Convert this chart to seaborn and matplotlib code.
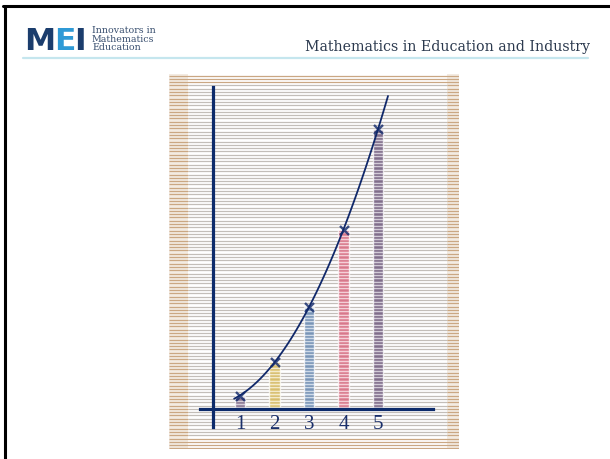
import numpy as np
import pandas as pd
import matplotlib
matplotlib.use("Agg")
import matplotlib.pyplot as plt
import seaborn as sns

# dane
x_vals = [1, 2, 3, 4, 5]
y_vals = [1.2, 4.2, 9.1, 16.0, 25.0]
tick_labels = ["1", "2", "3", "4", "5"]
bar_colors = ["#7a5a8a", "#f0c840", "#5585c0", "#f05070", "#6b4d80"]

W, H = 610, 459
NAVY = "#10286a"


def px_box(x0, y0, x1, y1):
    return [x0 / W, 1 - y1 / H, (x1 - x0) / W, (y1 - y0) / H]


sns.set_theme(style="white")
fig = plt.figure(figsize=(W / 100, H / 100), dpi=100)
fig.patch.set_facecolor("white")

# ramka slajdu
fig.add_artist(plt.Line2D([3 / W, 1], [1 - 5.5 / H, 1 - 5.5 / H], color="black", lw=2.2))
fig.add_artist(plt.Line2D([4.5 / W, 4.5 / W], [0, 1 - 5.5 / H], color="black", lw=2.2))

# naglowek
logo = [("M", 24, "#1b3d6d"), ("E", 54, "#2f9ad6"), ("I", 74, "#1b3d6d")]
for letter, xp, col in logo:
    fig.text(xp / W, 1 - 50 / H, letter, color=col, fontsize=22.5, fontweight="heavy",
             family="DejaVu Sans", ha="left", va="baseline")
fig.text(92 / W, 1 - 39 / H, "Innovators in\nMathematics\nEducation", color="#3a5070",
         fontsize=6.8, family="DejaVu Serif", ha="left", va="center", linespacing=0.9)
fig.text(590 / W, 1 - 47 / H, "Mathematics in Education and Industry", color="#2c3a4f",
         fontsize=10.2, family="DejaVu Serif", ha="right", va="center")
fig.add_artist(plt.Line2D([23 / W, 588 / W], [1 - 57.5 / H, 1 - 57.5 / H], color="#c5e6ee", lw=1.6))

# tlo - papier w linie
bg = fig.add_axes(px_box(169, 74, 459, 449))
bg.set_xlim(0, 290)
bg.set_ylim(375, 0)
bg.set_facecolor("#f6f5f4")
bg.axvspan(0, 19, color="#f3ebe2", lw=0)
bg.axvspan(278, 290, color="#f3ebe2", lw=0)
BROWN, GREY = "#caa783", "#c3beb9"
for yl in np.arange(1.5, 375, 3.3):
    if yl < 9 or yl > 362:
        bg.hlines(yl, 0, 290, color=BROWN, lw=0.9)
    else:
        bg.hlines(yl, 19, 278, color=GREY, lw=0.9)
        bg.hlines(yl, 0, 19, color=BROWN, lw=0.9)
        bg.hlines(yl, 278, 290, color=BROWN, lw=0.9)
bg.axis("off")

# wykres
ax = fig.add_axes(px_box(169, 74, 459, 449))
ax.patch.set_alpha(0)

df = pd.DataFrame({"x": x_vals, "y": y_vals})
palette = dict(zip(x_vals, bar_colors))
sns.barplot(data=df, x="x", y="y", hue="x", palette=palette, native_scale=True,
            width=0.3, errorbar=None, legend=False, alpha=0.75, ax=ax)

# krzywa dopasowana (zakres rysowania z biezacych granic osi)
ax.set_xlim(0.83, 5.29)
sns.regplot(data=df, x="x", y="y", order=2, ci=None, truncate=False, marker="x",
            color=NAVY, scatter_kws={"s": 42, "linewidths": 1.7, "zorder": 4},
            line_kws={"lw": 1.3, "zorder": 3}, ax=ax)

# skala: x=1 -> 240 px, 34.5 px/jedn.; y=0 -> 409 px, 11.2 px/jedn.
ax.set_xlim(1 - 71 / 34.5, 1 + 219 / 34.5)
ax.set_ylim(-40 / 11.2, 335 / 11.2)

# biale przerwy miedzy liniami tylko na slupkach
gaps = (409 - (74 + 3.15 + np.arange(0, 110) * 3.3)) / 11.2
for bar in ax.patches:
    x0 = bar.get_x()
    x1 = x0 + bar.get_width()
    top = bar.get_height()
    g = gaps[(gaps > 0) & (gaps < top)]
    ax.hlines(g, x0, x1, color="white", lw=0.9, alpha=0.6, zorder=1.5)

for s in ["top", "right"]:
    ax.spines[s].set_visible(False)
ax.spines["left"].set_position(("data", 1 + (213 - 240) / 34.5))
ax.spines["left"].set_bounds(-18 / 11.2, 322 / 11.2)
ax.spines["bottom"].set_position(("data", 0))
ax.spines["bottom"].set_bounds(1 - 40 / 34.5, 1 + 193 / 34.5)
for s in ["left", "bottom"]:
    ax.spines[s].set_color("#0d2b6b")
    ax.spines[s].set_linewidth(2.3)
    ax.spines[s].set_zorder(2.5)

ax.set_xticks(x_vals)
ax.set_xticklabels(tick_labels, family="Liberation Serif", fontsize=15, color="#1a2f6a")
ax.tick_params(axis="x", length=0, pad=4)
ax.set_yticks([])
ax.set_xlabel("")
ax.set_ylabel("")

fig.savefig("out.png", dpi=100)
